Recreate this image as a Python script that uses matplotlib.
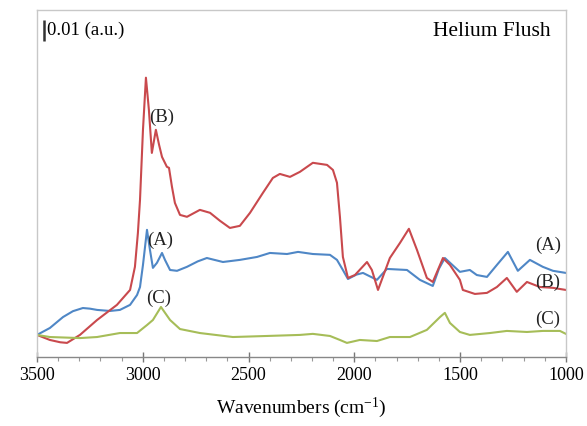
import matplotlib
matplotlib.use('Agg')
import matplotlib.pyplot as plt
from matplotlib.ticker import MultipleLocator

plt.rcParams.update({
    'font.family': ['Liberation Serif', 'DejaVu Serif'],
    'mathtext.fontset': 'custom',
    'mathtext.rm': 'Liberation Serif',
    'mathtext.it': 'Liberation Serif:italic',
})

# Spectrum (A)
wn_a = [3500, 3439, 3377, 3330, 3283, 3250, 3216, 3155, 3108, 3060, 3027, 3013,
        2999, 2980, 2966, 2952, 2933, 2909, 2895, 2871, 2838, 2791, 2740, 2697,
        2621, 2541, 2460, 2399, 2318, 2266, 2196, 2115, 2082, 2054, 2030, 2021,
        1990, 1959, 1893, 1846, 1751, 1690, 1629, 1600, 1572, 1501, 1454, 1421,
        1373, 1326, 1274, 1227, 1170, 1109, 1061, 1000]
abs_a = [0.0105, 0.0138, 0.0190, 0.0218, 0.0233, 0.0230, 0.0224, 0.0219, 0.0224,
         0.0248, 0.0295, 0.0333, 0.0438, 0.0605, 0.0510, 0.0424, 0.0448, 0.0495,
         0.0462, 0.0414, 0.0410, 0.0429, 0.0455, 0.0471, 0.0452, 0.0462, 0.0476,
         0.0495, 0.0490, 0.0500, 0.0490, 0.0486, 0.0462, 0.0414, 0.0371, 0.0376,
         0.0392, 0.0400, 0.0367, 0.0419, 0.0414, 0.0367, 0.0338, 0.0420, 0.0471,
         0.0405, 0.0414, 0.0390, 0.0381, 0.0438, 0.0500, 0.0410, 0.0462, 0.0429,
         0.0410, 0.0400]

# Spectrum (B)
wn_b = [3500, 3439, 3390, 3358, 3297, 3216, 3122, 3060, 3037, 3023, 3013, 2999,
        2985, 2971, 2957, 2938, 2923, 2909, 2886, 2876, 2862, 2848, 2824, 2791,
        2730, 2682, 2635, 2588, 2541, 2493, 2432, 2385, 2352, 2304, 2257, 2196,
        2129, 2101, 2082, 2068, 2054, 2030, 1997, 1940, 1917, 1888, 1832, 1784,
        1742, 1704, 1657, 1629, 1581, 1548, 1501, 1487, 1430, 1373, 1326, 1279,
        1232, 1184, 1123, 1061, 1000]
abs_b = [0.0105, 0.0081, 0.0070, 0.0067, 0.0105, 0.0176, 0.0248, 0.0319, 0.0429,
         0.0590, 0.0748, 0.1081, 0.1329, 0.1176, 0.0971, 0.1081, 0.1010, 0.0952,
         0.0905, 0.0900, 0.0810, 0.0733, 0.0676, 0.0667, 0.0700, 0.0686, 0.0648,
         0.0614, 0.0624, 0.0686, 0.0781, 0.0852, 0.0871, 0.0857, 0.0881, 0.0924,
         0.0914, 0.0890, 0.0829, 0.0667, 0.0476, 0.0376, 0.0390, 0.0452, 0.0414,
         0.0319, 0.0471, 0.0543, 0.0610, 0.0510, 0.0376, 0.0357, 0.0471, 0.0438,
         0.0367, 0.0319, 0.0300, 0.0305, 0.0333, 0.0376, 0.0310, 0.0357, 0.0333,
         0.0329, 0.0319]

# Spectrum (C)
wn_c = [3500, 3439, 3297, 3216, 3108, 3027, 2980, 2952, 2914, 2871, 2824, 2730,
        2574, 2413, 2257, 2196, 2115, 2068, 2035, 1974, 1893, 1832, 1737, 1657,
        1595, 1572, 1548, 1501, 1454, 1359, 1279, 1184, 1109, 1028, 1000]
abs_c = [0.0105, 0.0095, 0.0090, 0.0095, 0.0114, 0.0114, 0.0152, 0.0176, 0.0238,
         0.0176, 0.0133, 0.0114, 0.0095, 0.0100, 0.0105, 0.0110, 0.0100, 0.0081,
         0.0067, 0.0081, 0.0076, 0.0095, 0.0095, 0.0129, 0.0190, 0.0210, 0.0162,
         0.0119, 0.0105, 0.0114, 0.0124, 0.0119, 0.0124, 0.0124, 0.0110]

fig = plt.figure(figsize=(5.87, 4.26), dpi=100)
ax = fig.add_axes([0.063, 0.162, 0.901, 0.815])

ax.plot(wn_a, abs_a, color='#4f87c6', lw=1.5)
ax.plot(wn_b, abs_b, color='#c9494d', lw=1.5)
ax.plot(wn_c, abs_c, color='#a6bd58', lw=1.5)

ax.set_xlim(3500, 1000)
ax.set_ylim(0, 0.1652)
ax.set_yticks([])
ax.xaxis.set_major_locator(MultipleLocator(500))
ax.xaxis.set_minor_locator(MultipleLocator(100))
ax.tick_params(axis='x', which='major', direction='inout', length=7,
               width=1, color='#777777', labelsize=13, pad=4)
ax.tick_params(axis='x', which='minor', direction='out', length=3,
               width=0.8, color='#999999')
for side in ('top', 'left', 'right'):
    ax.spines[side].set_color('#c8c8c8')
    ax.spines[side].set_linewidth(1)
ax.spines['bottom'].set_color('#888888')
ax.spines['bottom'].set_linewidth(1)
ax.set_xlabel(r'Wavenumbers (cm$^{\mathrm{-1}}$)', fontsize=14, labelpad=8)

# curve labels
lab = dict(fontsize=13.5, ha='center', va='center', color='#222222')
ax.text(2910, 0.1138, '(B)', **lab)
ax.text(2920, 0.0557, '(A)', **lab)
ax.text(2925, 0.0281, '(C)', **lab)
ax.text(1085, 0.0529, '(A)', **lab)
ax.text(1085, 0.0357, '(B)', **lab)
ax.text(1085, 0.0181, '(C)', **lab)

# 0.01 a.u. scale bar
ax.plot([3467, 3467], [0.1505, 0.1605], color='#333333', lw=1.8,
        solid_capstyle='butt')
ax.text(3452, 0.1555, '0.01 (a.u.)', fontsize=13.5, ha='left', va='center')
ax.text(1070, 0.1550, 'Helium Flush', fontsize=15.5, ha='right', va='center')

fig.savefig('out.png', dpi=100)
